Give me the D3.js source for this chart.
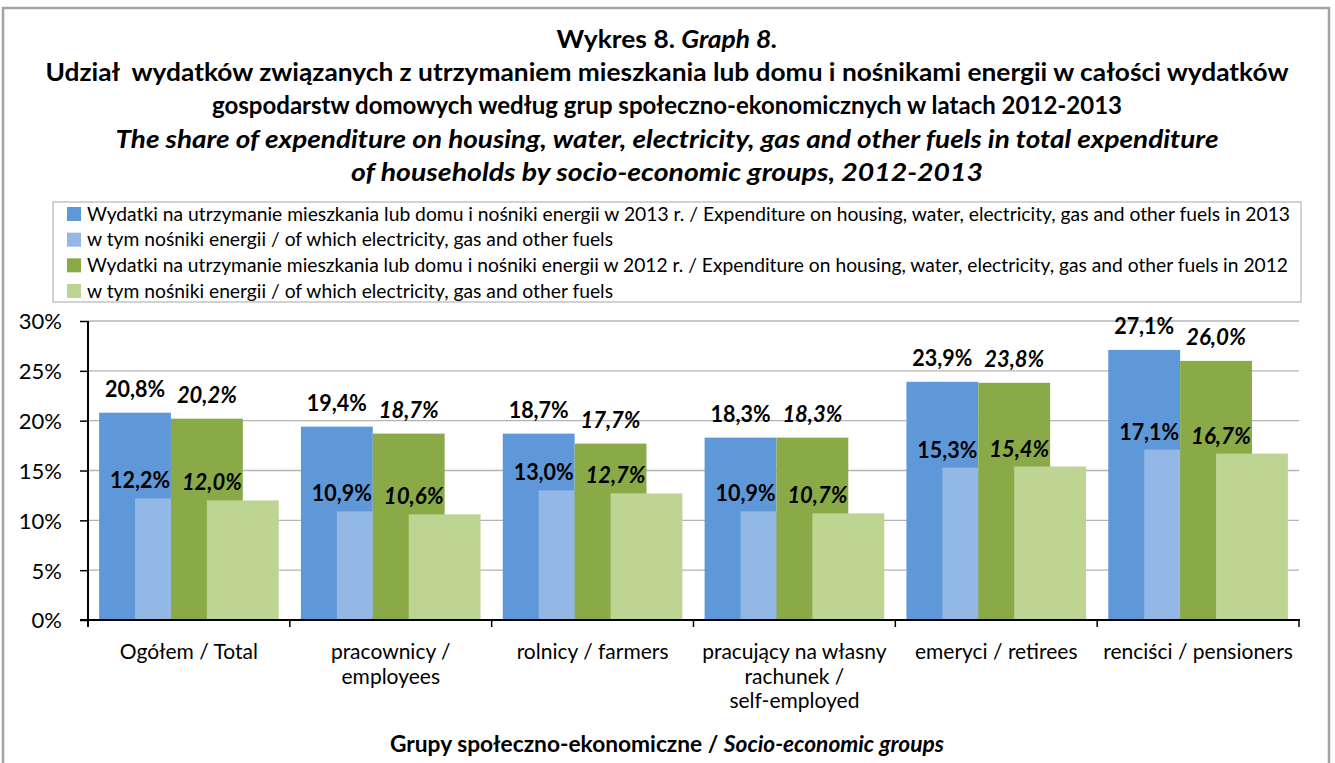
<!DOCTYPE html>
<html>
<head>
<meta charset="utf-8">
<script src="https://cdn.jsdelivr.net/npm/d3@7"></script>
<style>
  body { margin: 0; background: #fff; }
  svg { display: block; font-family: Lato, "Open Sans", sans-serif; }
</style>
</head>
<body>
<svg width="1335" height="763"></svg>
<script>
// categories, split into their printed lines
const categories = [
  ['Ogółem / Total'],
  ['pracownicy /', 'employees'],
  ['rolnicy / farmers'],
  ['pracujący na własny', 'rachunek /', 'self-employed'],
  ['emeryci / retirees'],
  ['renciści / pensioners']
];

const housing2013 = [20.8, 19.4, 18.7, 18.3, 23.9, 27.1];
const energy2013  = [12.2, 10.9, 13.0, 10.9, 15.3, 17.1];
const housing2012 = [20.2, 18.7, 17.7, 18.3, 23.8, 26.0];
const energy2012  = [12.0, 10.6, 12.7, 10.7, 15.4, 16.7];

const yTicks = [0, 5, 10, 15, 20, 25, 30];

const legendLabels = [
  'Wydatki na utrzymanie mieszkania lub domu i nośniki energii w 2013 r. / Expenditure on housing, water, electricity, gas and other fuels in 2013',
  'w tym nośniki energii / of which electricity, gas and other fuels',
  'Wydatki na utrzymanie mieszkania lub domu i nośniki energii w 2012 r. / Expenditure on housing, water, electricity, gas and other fuels in 2012',
  'w tym nośniki energii / of which electricity, gas and other fuels'
];

const series = [
  {values: housing2013, color: '#5f98d8', italic: false, light: false},
  {values: energy2013,  color: '#93b8e6', italic: false, light: true},
  {values: housing2012, color: '#8aaa47', italic: true,  light: false},
  {values: energy2012,  color: '#bed493', italic: true,  light: true}
];

const svg = d3.select('svg');

// outer frame
svg.append('rect')
  .attr('x', 3).attr('y', 8)
  .attr('width', 1326).attr('height', 770)
  .attr('fill', 'none')
  .attr('stroke', '#a3a3a3')
  .attr('stroke-width', 2.5);

// titles
const titleLines = [
  {parts: [['Wykres 8. ', false], ['Graph 8.', true]], y: 48, w: 221},
  {parts: [['Udział  wydatków związanych z utrzymaniem mieszkania lub domu i nośnikami energii w całości wydatków', false]], y: 81, w: 1243},
  {parts: [['gospodarstw domowych według grup społeczno-ekonomicznych w latach 2012-2013', false]], y: 114, w: 910},
  {parts: [['The share of expenditure on housing, water, electricity, gas and other fuels in total expenditure', true]], y: 148, w: 1103},
  {parts: [['of households by socio-economic groups, 2012-2013', true]], y: 181, w: 632}
];

titleLines.forEach(line => {
  const t = svg.append('text')
    .attr('x', 667).attr('y', line.y)
    .attr('text-anchor', 'middle')
    .attr('font-size', 24)
    .attr('font-weight', 'bold')
    .style('white-space', 'pre');
  line.parts.forEach(([txt, it]) => {
    t.append('tspan').attr('font-style', it ? 'italic' : 'normal').text(txt);
  });
  t.attr('textLength', line.w).attr('lengthAdjust', 'spacingAndGlyphs');
});

// legend
const legend = svg.append('g');
legend.append('rect')
  .attr('x', 53).attr('y', 202)
  .attr('width', 1248).attr('height', 100)
  .attr('fill', '#fff')
  .attr('stroke', '#b5b5b5')
  .attr('stroke-width', 1.2);

const legendWidths = [1203, 526, 1201, 526];
const legendY = d3.scalePoint().domain(d3.range(4)).range([214, 291]);

legendLabels.forEach((lab, i) => {
  legend.append('rect')
    .attr('x', 67).attr('y', legendY(i) - 7)
    .attr('width', 14).attr('height', 14)
    .attr('fill', series[i].color);
  legend.append('text')
    .attr('x', 87).attr('y', legendY(i) + 6.5)
    .attr('font-size', 18.5)
    .attr('textLength', legendWidths[i])
    .attr('lengthAdjust', 'spacingAndGlyphs')
    .text(lab);
});

// plot
const plot = {left: 88, right: 1299, top: 321, bottom: 620};

const x = d3.scaleBand()
  .domain(d3.range(categories.length))
  .range([plot.left, plot.right]);

const y = d3.scaleLinear()
  .domain([0, 30])
  .range([plot.bottom, plot.top]);

const band = x.bandwidth();
const sidePad = band * 0.055;
const barW = (band - 2 * sidePad) / 2.5;

// gridlines
svg.append('g')
  .selectAll('line')
  .data(yTicks.filter(d => d > 0))
  .join('line')
    .attr('x1', plot.left).attr('x2', plot.right)
    .attr('y1', d => y(d)).attr('y2', d => y(d))
    .attr('stroke', '#b4b4b4')
    .attr('stroke-width', 1.3);

// bars
series.forEach((s, si) => {
  svg.append('g')
    .selectAll('rect')
    .data(s.values)
    .join('rect')
      .attr('x', (d, i) => x(i) + sidePad + si * barW / 2)
      .attr('y', d => y(d))
      .attr('width', barW)
      .attr('height', d => y(0) - y(d))
      .attr('fill', s.color);
});

// value labels
const fmt = v => v.toFixed(1).replace('.', ',') + '%';
series.forEach((s, si) => {
  svg.append('g')
    .selectAll('text')
    .data(s.values)
    .join('text')
      .attr('x', (d, i) => {
        const left = x(i) + sidePad + si * barW / 2;
        return s.light ? left + 5 : left + barW / 2;
      })
      .attr('y', d => y(d) - (s.light ? 10 : 16))
      .attr('text-anchor', 'middle')
      .attr('font-size', 23.5)
      .attr('font-weight', 'bold')
      .attr('font-style', s.italic ? 'italic' : 'normal')
      .attr('fill', '#000')
      .attr('textLength', 60)
      .attr('lengthAdjust', 'spacingAndGlyphs')
      .text(fmt);
});

// y axis
const yAxis = svg.append('g')
  .attr('transform', `translate(${plot.left},0)`)
  .call(d3.axisLeft(y).tickValues(yTicks).tickSize(8).tickFormat(d => d + '%'));
yAxis.select('.domain').attr('stroke', '#000').attr('stroke-width', 2)
  .attr('d', `M0,${plot.top}V${plot.bottom + 7}`);
yAxis.selectAll('.tick line').attr('stroke', '#000').attr('stroke-width', 1.5);
yAxis.selectAll('.tick text')
  .attr('x', -26)
  .attr('dy', '0.36em')
  .attr('font-size', 22)
  .attr('font-family', 'Lato, sans-serif')
  .attr('fill', '#000');

// x axis
const xAxis = svg.append('g');
xAxis.append('line')
  .attr('x1', plot.left - 8).attr('x2', plot.right + 1)
  .attr('y1', plot.bottom).attr('y2', plot.bottom)
  .attr('stroke', '#000').attr('stroke-width', 2);
xAxis.selectAll('line.tick')
  .data(d3.range(1, categories.length + 1))
  .join('line')
    .attr('class', 'tick')
    .attr('x1', i => plot.left + i * band).attr('x2', i => plot.left + i * band)
    .attr('y1', plot.bottom).attr('y2', plot.bottom + 7)
    .attr('stroke', '#000').attr('stroke-width', 1.5);

xAxis.selectAll('text.cat')
  .data(categories)
  .join('text')
    .attr('class', 'cat')
    .attr('text-anchor', 'middle')
    .attr('font-size', 21)
    .attr('fill', '#000')
    .each(function (lines, i) {
      d3.select(this).selectAll('tspan')
        .data(lines)
        .join('tspan')
          .attr('x', x(i) + band / 2)
          .attr('y', (l, j) => 659 + j * 24.5)
          .text(l => l);
    });

// x axis title
const xt = svg.append('text')
  .attr('x', 667).attr('y', 752)
  .attr('text-anchor', 'middle')
  .attr('font-size', 23.5)
  .attr('font-weight', 'bold')
  .attr('textLength', 554)
  .attr('lengthAdjust', 'spacingAndGlyphs');
xt.append('tspan').text('Grupy społeczno-ekonomiczne / ');
xt.append('tspan').attr('font-style', 'italic').text('Socio-economic groups');
</script>
</body>
</html>
